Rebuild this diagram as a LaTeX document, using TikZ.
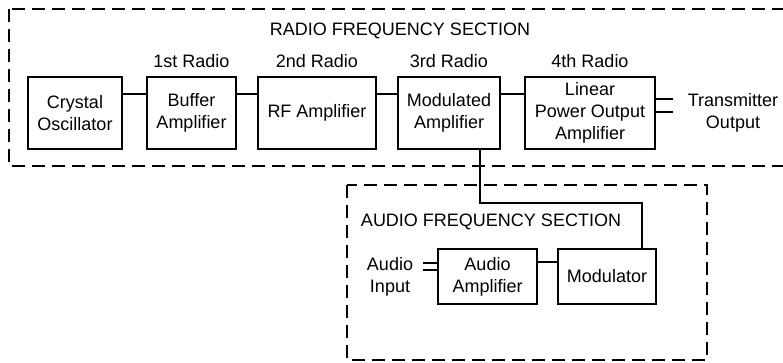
\documentclass[tikz,border=0pt]{standalone}
\usepackage{fontspec}
\setmainfont{Liberation Sans}
\usetikzlibrary{positioning,calc}

\begin{document}
\begin{tikzpicture}[x=1pt, y=-1pt, every node/.style={font=\fontsize{18}{22}\selectfont, align=center},
  block/.style={draw, line width=1.8pt, rectangle, minimum height=72pt, inner sep=2pt},
  lbl/.style={inner sep=0pt},
  section/.style={draw, line width=2.5pt, dash pattern=on 13pt off 7pt},
  wire/.style={line width=1.8pt}]

\useasboundingbox (0,0) rectangle (783,362);

% Section 1: Radio frequency
\draw[section] (9,9) rectangle (800,166);
\node[lbl] (rftitle) at (400,31) {RADIO FREQUENCY SECTION};

\node[block, minimum width=94pt] (osc) at (75,113) {Crystal\\Oscillator};
\node[block, minimum width=89pt] (buf) at (191.5,113) {Buffer\\Amplifier};
\node[block, minimum width=118pt] (rfamp) at (317,113) {RF Amplifier};
\node[block, minimum width=102pt] (modamp) at (449,113) {Modulated\\Amplifier};
\node[block, minimum width=130pt] (lin) at (590,113) {Linear\\Power Output\\Amplifier};

\node[lbl, above=8pt of buf] (first) {1st Radio};
\node[lbl, above=8pt of rfamp] (second) {2nd Radio};
\node[lbl, above=8pt of modamp] (third) {3rd Radio};
\node[lbl, above=8pt of lin] (fourth) {4th Radio};

\node[lbl] (txout) at (733,113) {Transmitter\\Output};
\coordinate (txa) at (673,99);
\coordinate (txb) at (673,112);

% Section 2: Audio frequency
\draw[section] (347,185) rectangle (707,360);
\node[lbl] (aftitle) at (491,222) {AUDIO FREQUENCY SECTION};

\node[block, minimum width=99pt, minimum height=55pt] (audamp) at (487.5,276.5) {Audio\\Amplifier};
\node[block, minimum width=98pt, minimum height=55pt] (modl) at (607,276.5) {Modulator};

\node[lbl] (audin) at (390,277) {Audio\\Input};
\coordinate (ina) at (423,263);
\coordinate (inb) at (423,270);
\coordinate (bend) at (642,203);

% Wires
\draw[wire] ([yshift=19pt]osc.east) -- ([yshift=19pt]buf.west);
\draw[wire] ([yshift=19pt]buf.east) -- ([yshift=19pt]rfamp.west);
\draw[wire] ([yshift=19pt]rfamp.east) -- ([yshift=19pt]modamp.west);
\draw[wire] ([yshift=19pt]modamp.east) -- ([yshift=19pt]lin.west);
\draw[wire] (txa -| lin.east) -- (txa);
\draw[wire] (txb -| lin.east) -- (txb);
\draw[wire] ([yshift=14.5pt]audamp.east) -- ([yshift=14.5pt]modl.west);
\draw[wire] (ina) -- (ina -| audamp.west);
\draw[wire] (inb) -- (inb -| audamp.west);
\draw[wire] ([xshift=31pt]modamp.south) |- (bend) -- (bend |- modl.north);

\end{tikzpicture}
\end{document}
